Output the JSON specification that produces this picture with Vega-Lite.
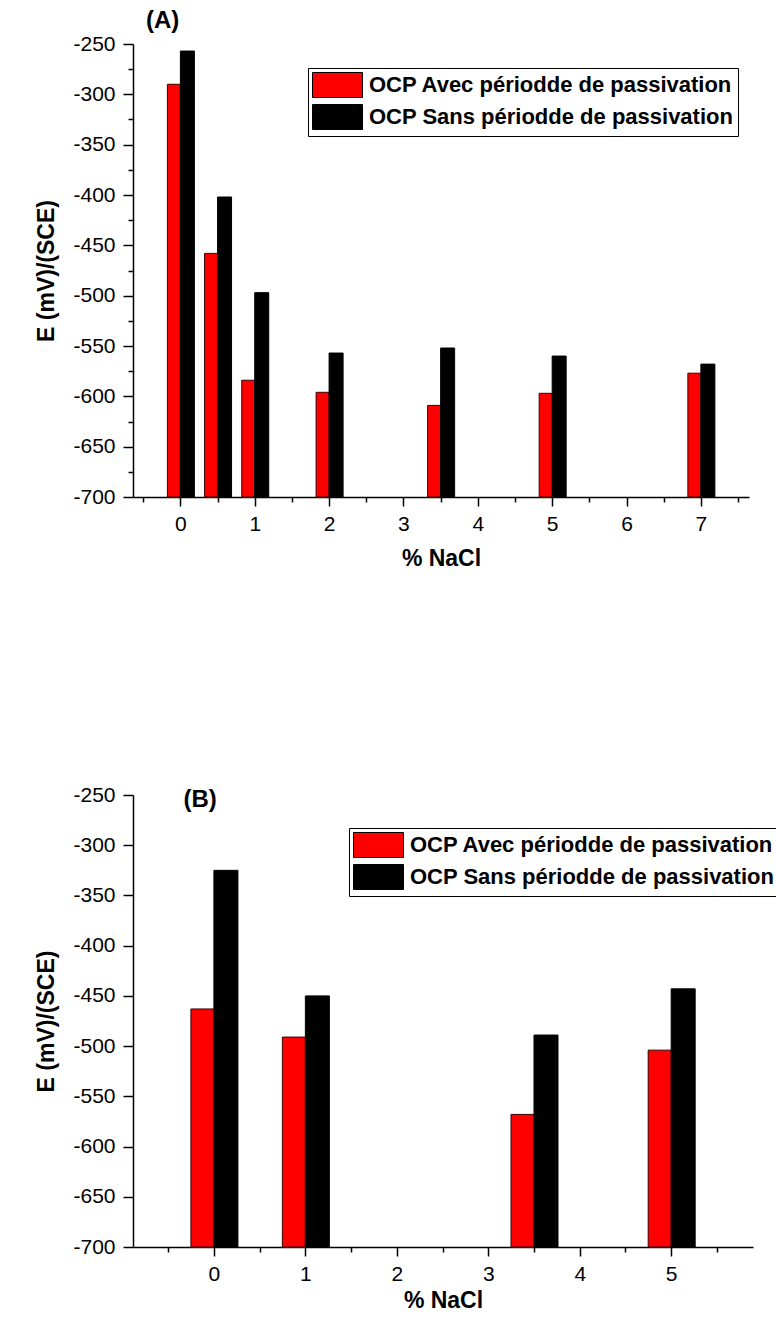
{
  "$schema": "https://vega.github.io/schema/vega-lite/v6.json",
  "background": "white",
  "padding": {"left": 35, "top": 9, "right": 0, "bottom": 5},
  "config": {
    "view": {"stroke": null},
    "font": "Liberation Sans",
    "axis": {
      "grid": false,
      "domainColor": "#000",
      "domainWidth": 1.5,
      "tickColor": "#000",
      "tickWidth": 1.5,
      "labelFont": "Liberation Sans",
      "labelFontSize": 21,
      "labelColor": "#000",
      "titleFont": "Liberation Sans",
      "titleFontSize": 23,
      "titleFontWeight": "bold",
      "titleColor": "#000"
    },
    "legend": {
      "orient": "none",
      "strokeColor": "#000",
      "fillColor": "#fff",
      "padding": 4,
      "labelFont": "Liberation Sans",
      "labelFontSize": 22,
      "labelFontWeight": "bold",
      "labelColor": "#000",
      "labelLimit": 0,
      "symbolType": "M-1,-1H3V1H-1Z",
      "symbolSize": 625,
      "symbolStrokeColor": "#000",
      "symbolStrokeWidth": 1,
      "symbolOpacity": 1,
      "rowPadding": 2,
      "labelOffset": 31,
      "title": null
    }
  },
  "datasets": {
    "a": [
      {"pct": 0, "series": "OCP Avec périodde de passivation", "E": -290},
      {"pct": 0.5, "series": "OCP Avec périodde de passivation", "E": -458},
      {"pct": 1, "series": "OCP Avec périodde de passivation", "E": -584},
      {"pct": 2, "series": "OCP Avec périodde de passivation", "E": -596},
      {"pct": 3.5, "series": "OCP Avec périodde de passivation", "E": -609},
      {"pct": 5, "series": "OCP Avec périodde de passivation", "E": -597},
      {"pct": 7, "series": "OCP Avec périodde de passivation", "E": -577},
      {"pct": 0, "series": "OCP Sans périodde de passivation", "E": -257},
      {"pct": 0.5, "series": "OCP Sans périodde de passivation", "E": -402},
      {"pct": 1, "series": "OCP Sans périodde de passivation", "E": -497},
      {"pct": 2, "series": "OCP Sans périodde de passivation", "E": -557},
      {"pct": 3.5, "series": "OCP Sans périodde de passivation", "E": -552},
      {"pct": 5, "series": "OCP Sans périodde de passivation", "E": -560},
      {"pct": 7, "series": "OCP Sans périodde de passivation", "E": -568}
    ],
    "b": [
      {"pct": 0, "series": "OCP Avec périodde de passivation", "E": -463},
      {"pct": 1, "series": "OCP Avec périodde de passivation", "E": -491},
      {"pct": 3.5, "series": "OCP Avec périodde de passivation", "E": -568},
      {"pct": 5, "series": "OCP Avec périodde de passivation", "E": -504},
      {"pct": 0, "series": "OCP Sans périodde de passivation", "E": -325},
      {"pct": 1, "series": "OCP Sans périodde de passivation", "E": -450},
      {"pct": 3.5, "series": "OCP Sans périodde de passivation", "E": -489},
      {"pct": 5, "series": "OCP Sans périodde de passivation", "E": -443}
    ],
    "labelB": [{"label": "(B)"}]
  },
  "spacing": 214,
  "vconcat": [
    {
      "width": 616,
      "height": 453,
      "title": {"text": "(A)", "anchor": "start", "frame": "group", "dx": 13, "fontSize": 24, "fontWeight": "bold", "font": "Liberation Sans", "color": "#000", "offset": 0},
      "data": {"name": "a"},
      "encoding": {
        "x": {
          "field": "pct", "type": "quantitative",
          "scale": {"domain": [-0.57, 7.58], "nice": false, "zero": false},
          "axis": {
            "title": "% NaCl",
            "values": [-0.5, 0, 0.5, 1, 1.5, 2, 2.5, 3, 3.5, 4, 4.5, 5, 5.5, 6, 6.5, 7, 7.5],
            "labelExpr": "datum.value % 1 == 0 ? '' + datum.value : ''",
            "tickSize": {"condition": {"test": "datum.value % 1 != 0", "value": 5}, "value": 9},
            "labelPadding": 7,
            "titlePadding": 13
          }
        },
        "y": {
          "field": "E", "type": "quantitative",
          "scale": {"domain": [-700, -250], "nice": false, "zero": false},
          "axis": {
            "title": "E (mV)/(SCE)",
            "values": [-700, -675, -650, -625, -600, -575, -550, -525, -500, -475, -450, -425, -400, -375, -350, -325, -300, -275, -250],
            "labelExpr": "datum.value % 50 == 0 ? '' + datum.value : ''",
            "tickSize": {"condition": {"test": "datum.value % 50 != 0", "value": 5}, "value": 10},
            "labelPadding": 8,
            "titlePadding": 14
          }
        },
        "y2": {"datum": -700},
        "color": {
          "field": "series", "type": "nominal",
          "scale": {"domain": ["OCP Avec périodde de passivation", "OCP Sans périodde de passivation"], "range": ["#ff0000", "#000000"]},
          "legend": {"legendX": 175, "legendY": 24}
        }
      },
      "layer": [
        {
          "transform": [{"filter": "datum.series == 'OCP Avec périodde de passivation'"}],
          "mark": {"type": "bar", "width": 13, "xOffset": -6.5, "stroke": "#3a0000", "strokeWidth": 1, "opacity": 1}
        },
        {
          "transform": [{"filter": "datum.series == 'OCP Sans périodde de passivation'"}],
          "mark": {"type": "bar", "width": 14, "xOffset": 7, "stroke": "#000", "strokeWidth": 1, "opacity": 1}
        }
      ]
    },
    {
      "width": 620,
      "height": 452,
      "layer": [
        {
          "data": {"name": "b"},
          "transform": [{"filter": "datum.series == 'OCP Avec périodde de passivation'"}],
          "mark": {"type": "bar", "width": 23, "xOffset": -11.5, "stroke": "#3a0000", "strokeWidth": 1, "opacity": 1},
          "encoding": {
            "x": {
              "field": "pct", "type": "quantitative",
              "scale": {"domain": [-0.83, 5.84], "nice": false, "zero": false},
              "axis": {
                "title": "% NaCl",
                "values": [-0.5, 0, 0.5, 1, 1.5, 2, 2.5, 3, 3.5, 4, 4.5, 5, 5.5],
                "labelExpr": "datum.value % 1 == 0 ? '' + datum.value : ''",
                "tickSize": {"condition": {"test": "datum.value % 1 != 0", "value": 5}, "value": 9},
                "labelPadding": 7,
                "titlePadding": 5
              }
            },
            "y": {
              "field": "E", "type": "quantitative",
              "scale": {"domain": [-700, -250], "nice": false, "zero": false},
              "axis": {
                "title": "E (mV)/(SCE)",
                "values": [-700, -675, -650, -625, -600, -575, -550, -525, -500, -475, -450, -425, -400, -375, -350, -325, -300, -275, -250],
                "labelExpr": "datum.value % 50 == 0 ? '' + datum.value : ''",
                "tickSize": {"condition": {"test": "datum.value % 50 != 0", "value": 5}, "value": 10},
                "labelPadding": 8,
                "titlePadding": 14
              }
            },
            "y2": {"datum": -700},
            "color": {
              "field": "series", "type": "nominal",
              "scale": {"domain": ["OCP Avec périodde de passivation", "OCP Sans périodde de passivation"], "range": ["#ff0000", "#000000"]},
              "legend": {"legendX": 216, "legendY": 33}
            }
          }
        },
        {
          "data": {"name": "b"},
          "transform": [{"filter": "datum.series == 'OCP Sans périodde de passivation'"}],
          "mark": {"type": "bar", "width": 24, "xOffset": 12, "stroke": "#000", "strokeWidth": 1, "opacity": 1},
          "encoding": {
            "x": {"field": "pct", "type": "quantitative"},
            "y": {"field": "E", "type": "quantitative"},
            "y2": {"datum": -700},
            "color": {"field": "series", "type": "nominal"}
          }
        },
        {
          "data": {"name": "labelB"},
          "mark": {"type": "text", "fontSize": 24, "fontWeight": "bold", "font": "Liberation Sans", "color": "#000", "align": "center", "baseline": "middle"},
          "encoding": {
            "x": {"datum": -0.15},
            "y": {"datum": -255},
            "text": {"field": "label"}
          }
        }
      ]
    }
  ],
  "resolve": {"scale": {"color": "independent"}}
}
